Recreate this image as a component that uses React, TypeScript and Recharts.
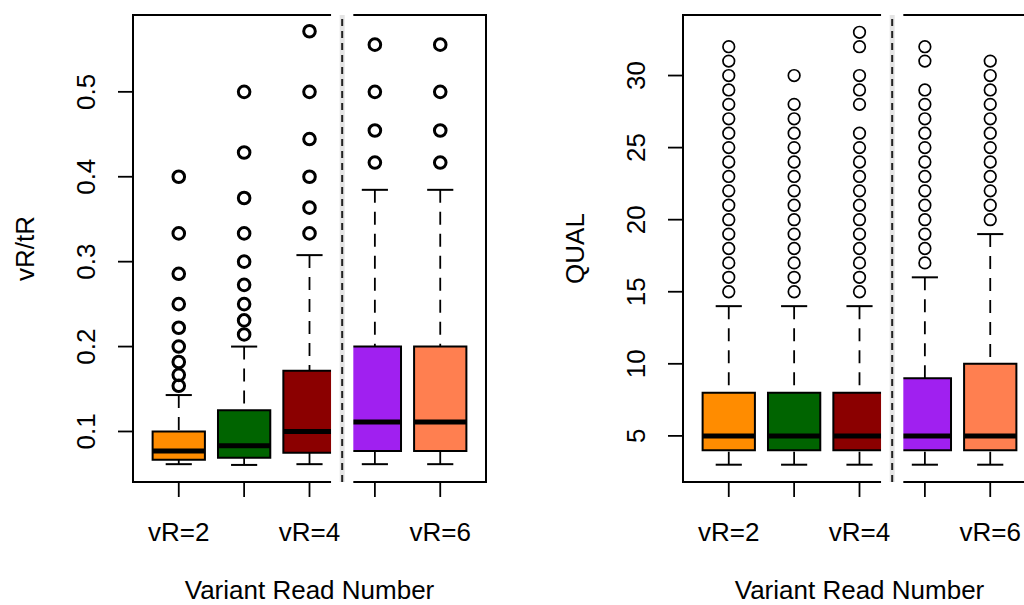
import React from "react";
import {
  ComposedChart,
  Scatter,
  XAxis,
  YAxis,
  ReferenceArea,
  ReferenceLine,
  Label,
} from "recharts";

const categories = ["vR=2", "vR=3", "vR=4", "vR=5", "vR=6"];
const boxColors = ["#FF8C00", "#006400", "#8B0000", "#A020F0", "#FF7F50"];

// left panel: vR/tR
const ratioLower = [0.0615, 0.0606, 0.0615, 0.0615, 0.0615];
const ratioQ1 = [0.0667, 0.069, 0.075, 0.0769, 0.0769];
const ratioMedian = [0.0769, 0.0833, 0.1, 0.1111, 0.1111];
const ratioQ3 = [0.1, 0.125, 0.1714, 0.2, 0.2];
const ratioUpper = [0.1429, 0.2, 0.3077, 0.3846, 0.3846];
const ratioOutliers = [
  [0.1538, 0.1667, 0.1818, 0.2, 0.2222, 0.25, 0.2857, 0.3333, 0.4],
  [0.2143, 0.2308, 0.25, 0.2727, 0.3, 0.3333, 0.375, 0.4286, 0.5],
  [0.3333, 0.3636, 0.4, 0.4444, 0.5, 0.5714],
  [0.4167, 0.4545, 0.5, 0.5556],
  [0.4167, 0.4545, 0.5, 0.5556],
];
const ratioTicks = [0.1, 0.2, 0.3, 0.4, 0.5];

// right panel: QUAL
const qualLower = [3, 3, 3, 3, 3];
const qualQ1 = [4, 4, 4, 4, 4];
const qualMedian = [5, 5, 5, 5, 5];
const qualQ3 = [8, 8, 8, 9, 10];
const qualUpper = [14, 14, 14, 16, 19];
const qualOutliers = [
  [15, 16, 17, 18, 19, 20, 21, 22, 23, 24, 25, 26, 27, 28, 29, 30, 31, 32],
  [15, 16, 17, 18, 19, 20, 21, 22, 23, 24, 25, 26, 27, 28, 30],
  [15, 16, 17, 18, 19, 20, 21, 22, 23, 24, 25, 26, 28, 29, 30, 32, 33],
  [17, 18, 19, 20, 21, 22, 23, 24, 25, 26, 27, 28, 29, 31, 32],
  [20, 21, 22, 23, 24, 25, 26, 27, 28, 29, 30, 31],
];
const qualTicks = [5, 10, 15, 20, 25, 30];

const FONT = "'Liberation Sans', Arial, Helvetica, sans-serif";
const FS = 26;

const XTick = (props: any) => {
  const { x, y, payload } = props;
  const i = Math.round(payload.value) - 1;
  // R drops the labels that would overlap
  if (i % 2 === 1) return <g />;
  return (
    <text x={x} y={y + 35} textAnchor="middle" dominantBaseline="central"
      fontFamily={FONT} fontSize={FS} fill="#000">
      {categories[i]}
    </text>
  );
};

const makeYTick = (fmt: (v: number) => string) => (props: any) => {
  const { x, y, payload } = props;
  const cx = x - 32;
  return (
    <text x={cx} y={y} transform={`rotate(-90 ${cx} ${y})`} textAnchor="middle"
      dominantBaseline="central" fontFamily={FONT} fontSize={FS} fill="#000">
      {fmt(payload.value)}
    </text>
  );
};

type PanelProps = {
  left: number;
  lower: number[];
  q1: number[];
  median: number[];
  q3: number[];
  upper: number[];
  outliers: number[][];
  ticks: number[];
  domain: [number, number];
  yLabel: string;
  fmt: (v: number) => string;
  circleWidth: number;
};

const BoxPanel = (p: PanelProps) => {
  const points = p.outliers.flatMap((vals, i) => vals.map((v) => ({ x: i + 1, y: v })));
  const YTick = makeYTick(p.fmt);
  return (
    <div style={{ position: "absolute", left: p.left, top: 0 }}>
      <ComposedChart width={520} height={605} margin={{ top: 15, right: 34, bottom: 0, left: 0 }}>
        <XAxis type="number" dataKey="x" domain={[0.3, 5.7]} ticks={[1, 2, 3, 4, 5]}
          allowDataOverflow interval={0} height={123} axisLine={false}
          tickSize={15} tickMargin={0} tickLine={{ stroke: "#000", strokeWidth: 1.8 }}
          tick={<XTick />}>
          <Label content={(lp: any) => {
            const vb = lp.viewBox || { x: 133, y: 482, width: 353 };
            return (
              <text x={vb.x + vb.width / 2} y={vb.y + 108} textAnchor="middle"
                dominantBaseline="central" fontFamily={FONT} fontSize={FS} fill="#000">
                Variant Read Number
              </text>
            );
          }} />
        </XAxis>
        <YAxis type="number" dataKey="y" domain={p.domain} ticks={p.ticks} allowDataOverflow
          width={133} axisLine={false} tickSize={15} tickMargin={0}
          tickLine={{ stroke: "#000", strokeWidth: 1.8 }} tick={<YTick />}>
          <Label content={(lp: any) => {
            const vb = lp.viewBox || { x: 0, y: 15, height: 467 };
            const cx = vb.x + 25;
            const cy = vb.y + vb.height / 2;
            return (
              <text x={cx} y={cy} transform={`rotate(-90 ${cx} ${cy})`} textAnchor="middle"
                dominantBaseline="central" fontFamily={FONT} fontSize={FS} fill="#000">
                {p.yLabel}
              </text>
            );
          }} />
        </YAxis>

        {/* frame */}
        <ReferenceArea x1={0.3} x2={5.7} y1={p.domain[0]} y2={p.domain[1]}
          fill="none" stroke="#000" strokeWidth={2} zIndex={50} />

        {categories.map((c, i) => (
          <ReferenceArea key={"box" + c} x1={i + 0.6} x2={i + 1.4} y1={p.q1[i]} y2={p.q3[i]}
            fill={boxColors[i]} fillOpacity={1} stroke="#000" strokeWidth={2} zIndex={100} />
        ))}
        {categories.map((c, i) => (
          <ReferenceLine key={"wu" + c} segment={[{ x: i + 1, y: p.upper[i] }, { x: i + 1, y: p.q3[i] }]}
            stroke="#000" strokeWidth={1.8} strokeDasharray="13 9" zIndex={110} />
        ))}
        {categories.map((c, i) => (
          <ReferenceLine key={"wl" + c} segment={[{ x: i + 1, y: p.lower[i] }, { x: i + 1, y: p.q1[i] }]}
            stroke="#000" strokeWidth={1.8} strokeDasharray="13 9" zIndex={110} />
        ))}
        {categories.map((c, i) => (
          <ReferenceLine key={"cu" + c} segment={[{ x: i + 0.8, y: p.upper[i] }, { x: i + 1.2, y: p.upper[i] }]}
            stroke="#000" strokeWidth={2} zIndex={110} />
        ))}
        {categories.map((c, i) => (
          <ReferenceLine key={"cl" + c} segment={[{ x: i + 0.8, y: p.lower[i] }, { x: i + 1.2, y: p.lower[i] }]}
            stroke="#000" strokeWidth={2} zIndex={110} />
        ))}
        {categories.map((c, i) => (
          <ReferenceLine key={"md" + c} segment={[{ x: i + 0.6, y: p.median[i] }, { x: i + 1.4, y: p.median[i] }]}
            stroke="#000" strokeWidth={5} zIndex={120} />
        ))}

        <Scatter data={points} dataKey="y" isAnimationActive={false} zIndex={600}
          shape={(sp: any) => (
            <circle cx={sp.cx} cy={sp.cy} r={5.8} fill="none" stroke="#000" strokeWidth={p.circleWidth} />
          )} />

        {/* separator between the groups */}
        <ReferenceArea x1={3.345} x2={3.655} y1={p.domain[0]} y2={p.domain[1]}
          fill="#fff" fillOpacity={1} stroke="#fff" strokeWidth={2} zIndex={700} />
        <ReferenceLine x={3.5} stroke="#e4e4e4" strokeWidth={5} zIndex={705} />
        <ReferenceLine x={3.5} stroke="#222" strokeWidth={2} strokeDasharray="7 5" zIndex={710} />
      </ComposedChart>
    </div>
  );
};

export default function App() {
  return (
    <div style={{ position: "absolute", left: 0, top: 0, width: 1024, height: 605, overflow: "hidden", background: "#fff" }}>
      <BoxPanel left={0} lower={ratioLower} q1={ratioQ1} median={ratioMedian} q3={ratioQ3}
        upper={ratioUpper} outliers={ratioOutliers} ticks={ratioTicks} domain={[0.0405, 0.5905]}
        yLabel="vR/tR" fmt={(v) => v.toFixed(1)} circleWidth={3} />
      <BoxPanel left={550} lower={qualLower} q1={qualQ1} median={qualMedian} q3={qualQ3}
        upper={qualUpper} outliers={qualOutliers} ticks={qualTicks} domain={[1.8, 34.2]}
        yLabel="QUAL" fmt={(v) => String(v)} circleWidth={1.7} />
    </div>
  );
}
